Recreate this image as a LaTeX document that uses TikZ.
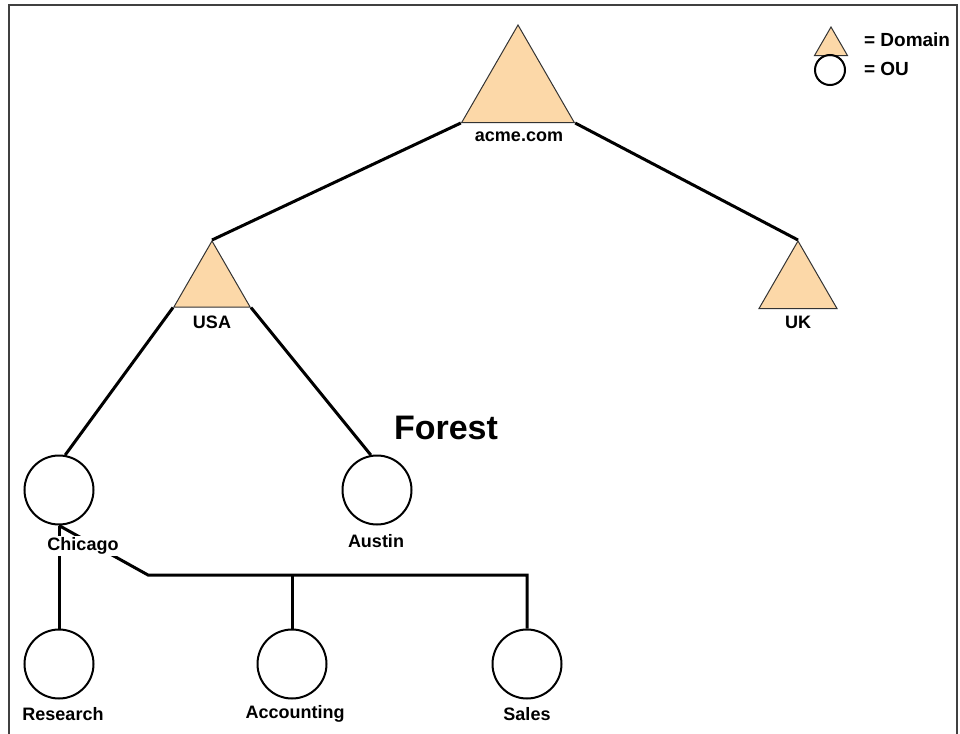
\documentclass[tikz,border=0pt]{standalone}
\usepackage{fontspec}
\setmainfont{Liberation Sans}
\usetikzlibrary{positioning,shapes.geometric}
\definecolor{domainfill}{RGB}{252,216,168}

\begin{document}
\begin{tikzpicture}[x=0.5pt, y=-0.5pt,
    every node/.style={font=\bfseries\fontsize{9}{11}\selectfont},
    dom/.style={draw=black!80, line width=0.5pt, fill=domainfill, regular polygon, regular polygon sides=3, inner sep=0pt},
    ou/.style={draw, circle, line width=1pt, minimum size=34.5pt, inner sep=0pt},
    link/.style={line width=1.5pt}]
      \useasboundingbox (0,0) rectangle (960,734);
      \draw[black!75, line width=0.8pt] (9,734) -- (9,5) -- (957,5) -- (957,734);

      % domains
      \node[dom, minimum size=65pt] (acme) at (518,90) {};
      \node[dom, minimum size=44pt] (usa) at (212,285) {};
      \node[dom, minimum size=45pt] (uk) at (798,286) {};
      \node at (519,137) (acme-txt) {acme.com};
      \node at (212,322) (usa-txt) {USA};
      \node at (798,322) (uk-txt) {UK};

      % organisational units
      \node[ou] (chicago) at (59,490) {};
      \node[ou] (austin) at (377,490) {};
      \node[ou] (research) at (59,664) {};
      \node[ou] (accounting) at (292,664) {};
      \node[ou] (sales) at (527,664) {};
      \node at (376,541) (austin-txt) {Austin};
      \node at (63,714) (research-txt) {Research};
      \node at (295,714) (accounting-txt) {Accounting};
      \node at (527,714) (sales-txt) {Sales};

      \node[font=\bfseries\fontsize{17}{20}\selectfont] (forest) at (446,428) {Forest};

      \draw[link] (acme.corner 2) -- (usa.corner 1);
      \draw[link] (acme.corner 3) -- (uk.corner 1);
      \draw[link] (usa.corner 2) -- (chicago.80);
      \draw[link] (usa.corner 3) -- (austin.100);
      \coordinate (bend) at (148,575);
      \draw[link] (chicago.south) -- (research.north);
      \draw[link] (chicago.south) -- (bend) -| (sales.north);
      \draw[link] (accounting.north |- bend) -- (accounting.north);
      % label sits on top of the lines
      \node[fill=white, inner sep=1pt] at (83,546) (chicago-txt) {Chicago};

      % legend
      \node[dom, minimum size=19pt] (key-dom) at (831,46) {};
      \node[ou, minimum size=15pt] (key-ou) at (830,70) {};
      \node[anchor=west, font=\bfseries\fontsize{9.5}{11}\selectfont] (key-dom-txt) at (857,40) {= Domain};
      \node[anchor=west, font=\bfseries\fontsize{9.5}{11}\selectfont] (key-ou-txt) at (857,69) {= OU};
\end{tikzpicture}
\end{document}
